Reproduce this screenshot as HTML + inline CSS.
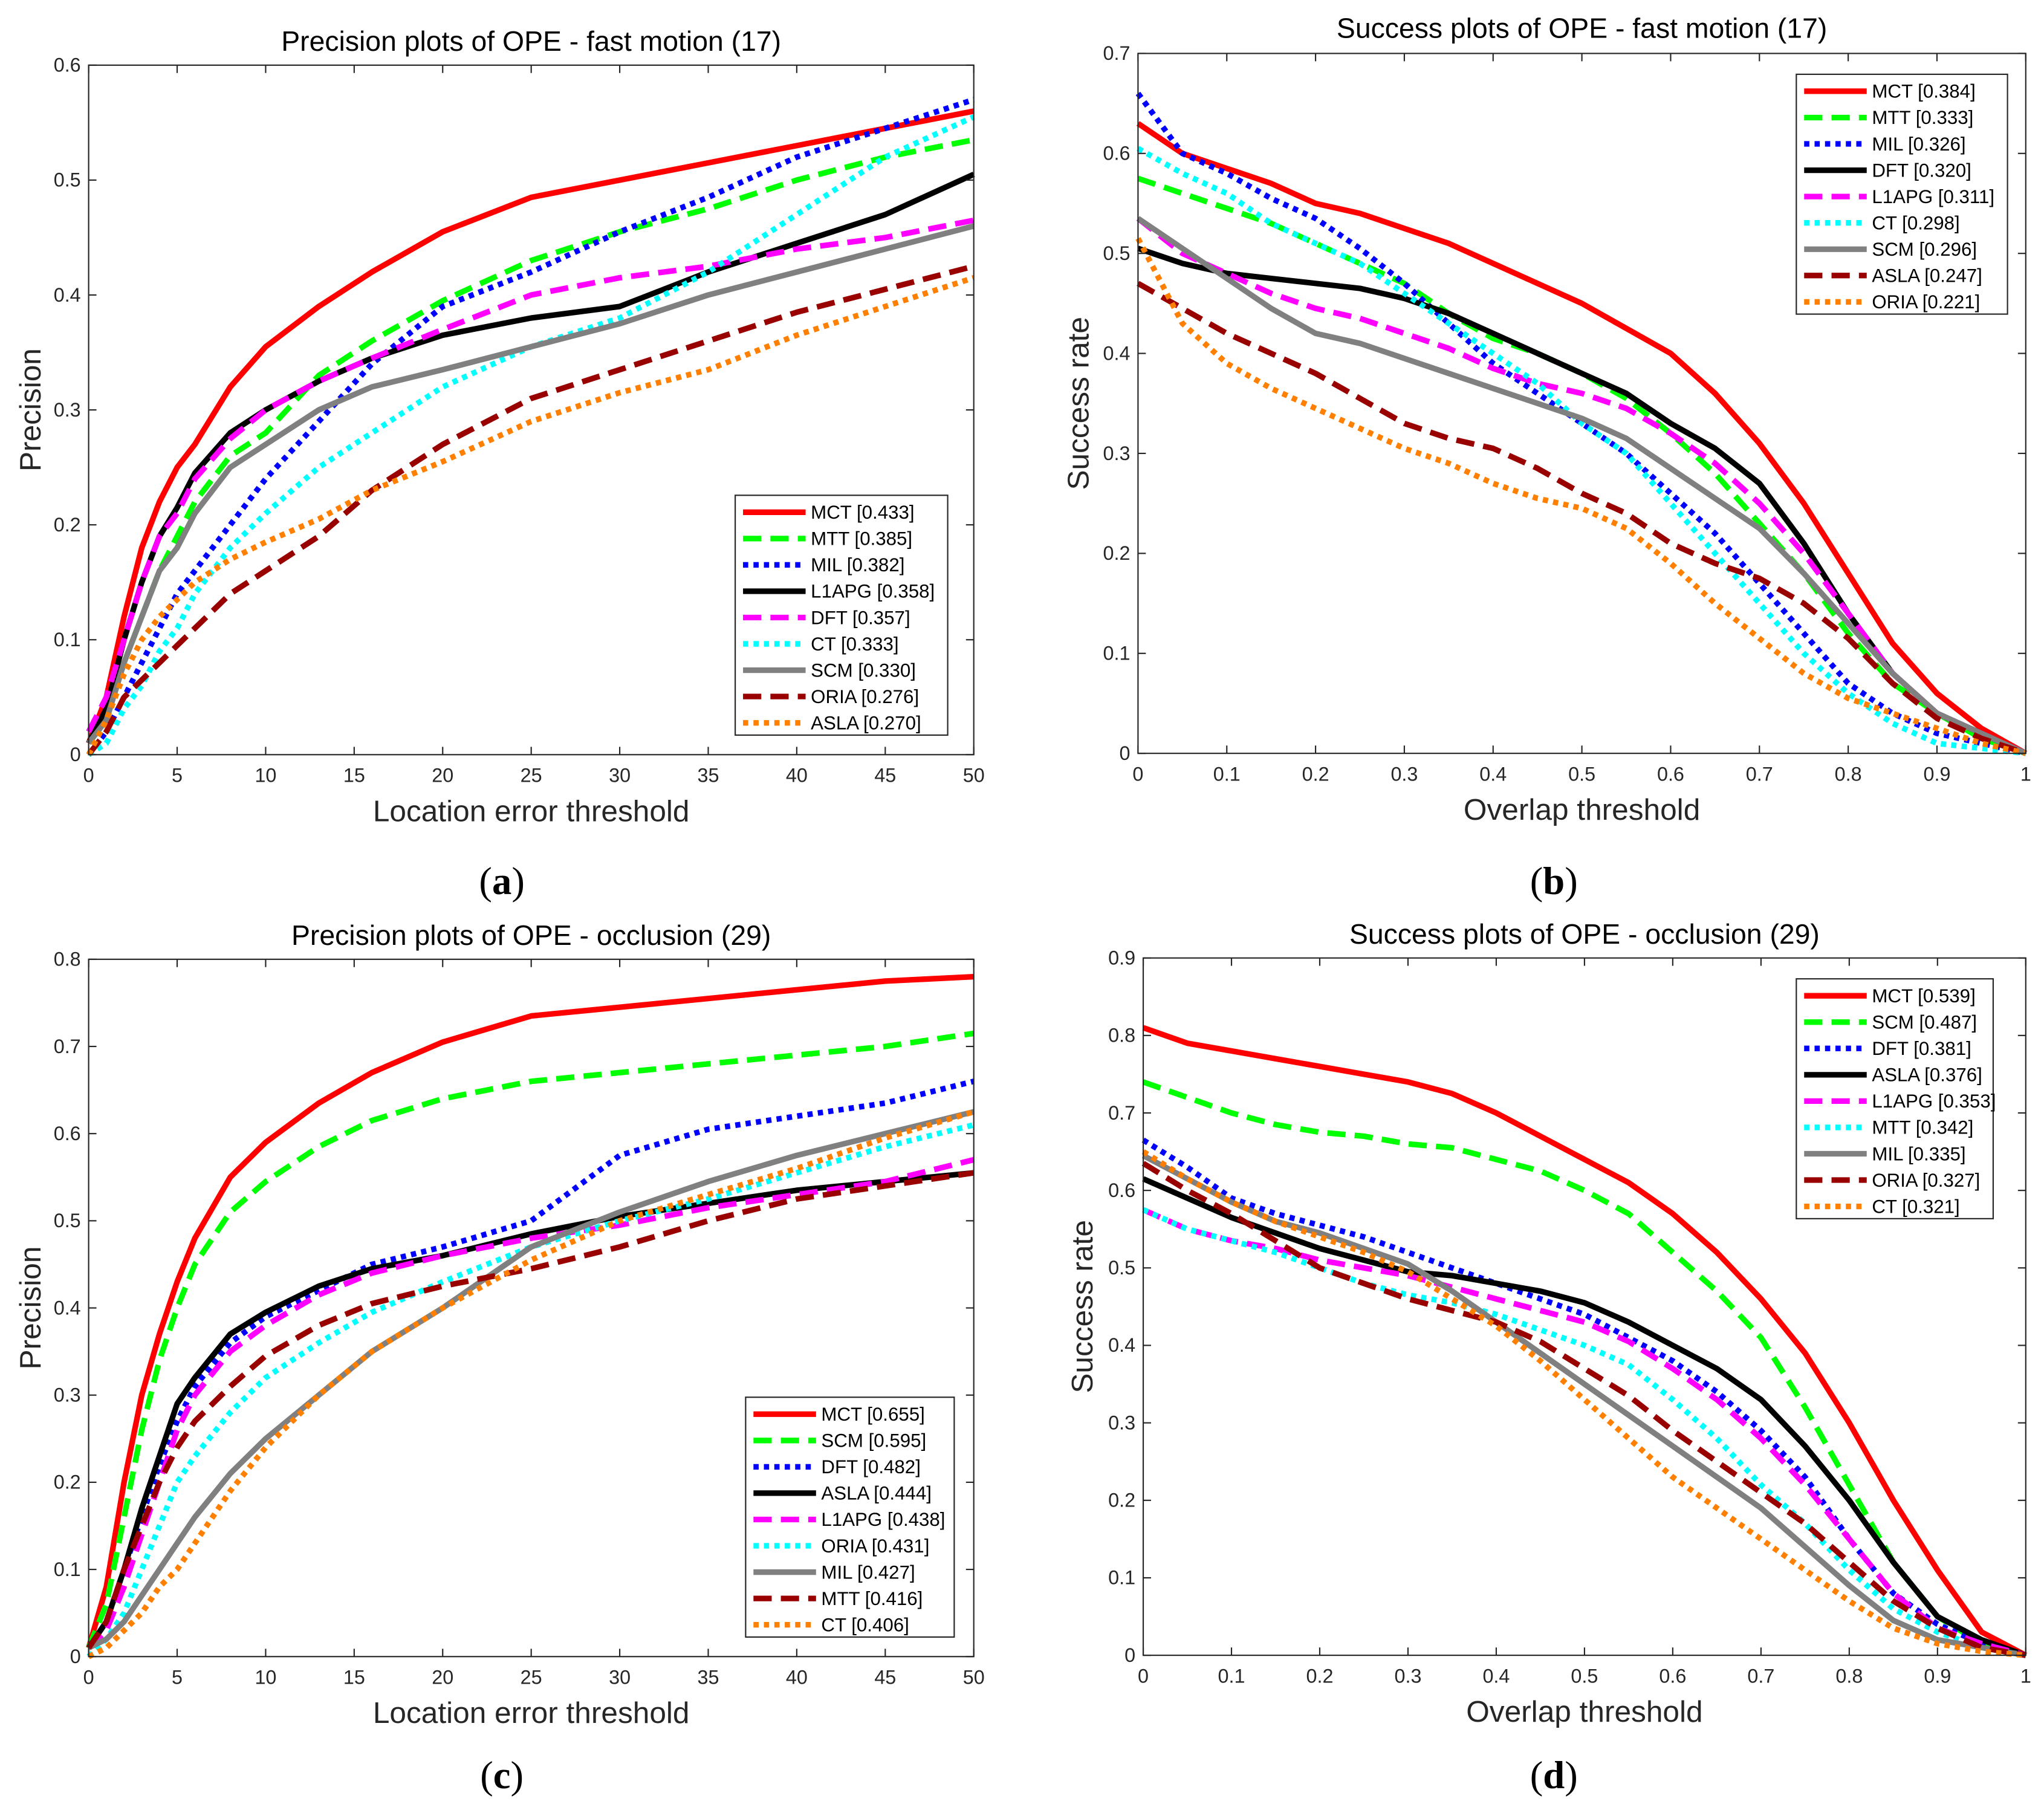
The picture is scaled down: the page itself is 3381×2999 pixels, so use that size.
<!DOCTYPE html>
<html><head><meta charset="utf-8"><style>html,body{margin:0;padding:0;background:#fff}svg{display:block}</style></head>
<body>
<svg id="fig" xmlns="http://www.w3.org/2000/svg" width="3381" height="2999" viewBox="0 0 1568 1391" preserveAspectRatio="none" font-family="'Liberation Sans', sans-serif"></svg>
<script>
const precX = [0,1,2,3,4,5,6,8,10,13,16,20,25,30,35,40,45,50];
const succX = [0,0.05,0.1,0.15,0.2,0.25,0.3,0.35,0.4,0.45,0.5,0.55,0.6,0.65,0.7,0.75,0.8,0.85,0.9,0.95,1];

const aNames = ["MCT [0.433]","MTT [0.385]","MIL [0.382]","L1APG [0.358]","DFT [0.357]","CT [0.333]","SCM [0.330]","ORIA [0.276]","ASLA [0.270]"];
const aMCT = [0.01,0.05,0.12,0.18,0.22,0.25,0.27,0.32,0.355,0.39,0.42,0.455,0.485,0.5,0.515,0.53,0.545,0.56];
const aMTT = [0.01,0.03,0.08,0.12,0.16,0.19,0.22,0.26,0.28,0.33,0.36,0.395,0.43,0.455,0.475,0.5,0.52,0.535];
const aMIL = [0,0.02,0.05,0.08,0.11,0.14,0.16,0.2,0.24,0.29,0.34,0.39,0.42,0.455,0.485,0.52,0.545,0.57];
const aL1APG = [0.01,0.04,0.1,0.15,0.19,0.215,0.245,0.28,0.3,0.325,0.345,0.365,0.38,0.39,0.42,0.445,0.47,0.505];
const aDFT = [0.02,0.05,0.1,0.15,0.19,0.21,0.24,0.275,0.3,0.325,0.345,0.37,0.4,0.415,0.425,0.44,0.45,0.465];
const aCT = [0,0.01,0.04,0.06,0.09,0.11,0.14,0.18,0.21,0.25,0.28,0.32,0.355,0.38,0.42,0.47,0.52,0.555];
const aSCM = [0.01,0.03,0.08,0.12,0.16,0.18,0.21,0.25,0.27,0.3,0.32,0.335,0.355,0.375,0.4,0.42,0.44,0.46];
const aORIA = [0,0.02,0.05,0.065,0.08,0.095,0.11,0.14,0.16,0.19,0.23,0.27,0.31,0.335,0.36,0.385,0.405,0.425];
const aASLA = [0,0.03,0.07,0.1,0.12,0.135,0.15,0.17,0.185,0.205,0.23,0.255,0.29,0.315,0.335,0.365,0.39,0.415];

const bNames = ["MCT [0.384]","MTT [0.333]","MIL [0.326]","DFT [0.320]","L1APG [0.311]","CT [0.298]","SCM [0.296]","ASLA [0.247]","ORIA [0.221]"];
const bMCT = [0.63,0.6,0.585,0.57,0.55,0.54,0.525,0.51,0.49,0.47,0.45,0.425,0.4,0.36,0.31,0.25,0.18,0.11,0.06,0.025,0];
const bMTT = [0.575,0.56,0.545,0.53,0.51,0.49,0.47,0.44,0.415,0.4,0.38,0.355,0.32,0.28,0.23,0.18,0.12,0.07,0.04,0.015,0];
const bMIL = [0.66,0.6,0.58,0.555,0.535,0.505,0.47,0.43,0.39,0.36,0.33,0.3,0.26,0.22,0.17,0.12,0.07,0.04,0.02,0.01,0];
const bDFT = [0.505,0.49,0.48,0.475,0.47,0.465,0.455,0.44,0.42,0.4,0.38,0.36,0.33,0.305,0.27,0.21,0.14,0.08,0.04,0.02,0];
const bL1APG = [0.535,0.5,0.48,0.46,0.445,0.435,0.42,0.405,0.385,0.37,0.36,0.345,0.32,0.29,0.25,0.2,0.14,0.08,0.04,0.02,0];
const bCT = [0.605,0.58,0.56,0.53,0.51,0.49,0.46,0.43,0.4,0.37,0.33,0.3,0.25,0.2,0.15,0.1,0.06,0.03,0.01,0.005,0];
const bSCM = [0.535,0.505,0.475,0.445,0.42,0.41,0.395,0.38,0.365,0.35,0.335,0.315,0.285,0.255,0.225,0.18,0.13,0.08,0.04,0.02,0];
const bASLA = [0.47,0.445,0.42,0.4,0.38,0.355,0.33,0.315,0.305,0.285,0.26,0.24,0.21,0.19,0.175,0.15,0.115,0.07,0.035,0.015,0];
const bORIA = [0.515,0.43,0.39,0.365,0.345,0.325,0.305,0.29,0.27,0.255,0.245,0.225,0.19,0.15,0.115,0.08,0.055,0.04,0.025,0.01,0];

const cNames = ["MCT [0.655]","SCM [0.595]","DFT [0.482]","ASLA [0.444]","L1APG [0.438]","ORIA [0.431]","MIL [0.427]","MTT [0.416]","CT [0.406]"];
const cMCT = [0.01,0.08,0.2,0.3,0.37,0.43,0.48,0.55,0.59,0.635,0.67,0.705,0.735,0.745,0.755,0.765,0.775,0.78];
const cSCM = [0.01,0.06,0.16,0.26,0.34,0.4,0.45,0.51,0.545,0.585,0.615,0.64,0.66,0.67,0.68,0.69,0.7,0.715];
const cDFT = [0.01,0.04,0.1,0.16,0.22,0.27,0.31,0.36,0.39,0.42,0.45,0.47,0.5,0.575,0.605,0.62,0.635,0.66];
const cASLA = [0.01,0.04,0.1,0.17,0.23,0.29,0.32,0.37,0.395,0.425,0.445,0.46,0.485,0.505,0.52,0.535,0.545,0.555];
const cL1APG = [0.01,0.03,0.08,0.14,0.2,0.26,0.3,0.35,0.38,0.415,0.44,0.46,0.48,0.495,0.515,0.53,0.545,0.57];
const cORIA = [0,0.02,0.05,0.1,0.15,0.2,0.23,0.28,0.32,0.36,0.395,0.43,0.47,0.5,0.525,0.555,0.585,0.61];
const cMIL = [0.01,0.02,0.04,0.07,0.1,0.13,0.16,0.21,0.25,0.3,0.35,0.4,0.47,0.51,0.545,0.575,0.6,0.625];
const cMTT = [0.01,0.04,0.1,0.15,0.2,0.24,0.27,0.31,0.345,0.38,0.405,0.425,0.445,0.47,0.5,0.525,0.54,0.555];
const cCT = [0,0.01,0.03,0.05,0.08,0.1,0.13,0.19,0.24,0.3,0.35,0.4,0.455,0.5,0.53,0.56,0.595,0.625];

const dNames = ["MCT [0.539]","SCM [0.487]","DFT [0.381]","ASLA [0.376]","L1APG [0.353]","MTT [0.342]","MIL [0.335]","ORIA [0.327]","CT [0.321]"];
const dMCT = [0.81,0.79,0.78,0.77,0.76,0.75,0.74,0.725,0.7,0.67,0.64,0.61,0.57,0.52,0.46,0.39,0.3,0.2,0.11,0.03,0];
const dSCM = [0.74,0.72,0.7,0.685,0.675,0.67,0.66,0.655,0.64,0.625,0.6,0.57,0.52,0.47,0.41,0.32,0.22,0.12,0.05,0.015,0];
const dDFT = [0.665,0.63,0.59,0.57,0.555,0.54,0.52,0.5,0.48,0.46,0.44,0.41,0.38,0.34,0.29,0.23,0.15,0.08,0.04,0.015,0];
const dASLA = [0.615,0.59,0.565,0.545,0.525,0.51,0.495,0.49,0.48,0.47,0.455,0.43,0.4,0.37,0.33,0.27,0.2,0.12,0.05,0.02,0];
const dL1APG = [0.575,0.55,0.535,0.525,0.51,0.5,0.49,0.475,0.46,0.445,0.43,0.405,0.37,0.33,0.28,0.22,0.15,0.08,0.035,0.015,0];
const dMTT = [0.575,0.55,0.535,0.52,0.5,0.48,0.465,0.455,0.44,0.42,0.4,0.375,0.33,0.28,0.22,0.17,0.11,0.06,0.03,0.01,0];
const dMIL = [0.645,0.615,0.585,0.56,0.545,0.525,0.505,0.47,0.43,0.39,0.35,0.31,0.27,0.23,0.19,0.14,0.09,0.045,0.02,0.01,0];
const dORIA = [0.635,0.6,0.57,0.535,0.5,0.48,0.46,0.445,0.43,0.405,0.37,0.335,0.29,0.25,0.21,0.17,0.12,0.07,0.035,0.01,0];
const dCT = [0.65,0.615,0.585,0.56,0.54,0.52,0.495,0.46,0.425,0.38,0.33,0.28,0.23,0.19,0.15,0.11,0.07,0.035,0.015,0.005,0];

const precTicks = [0,5,10,15,20,25,30,35,40,45,50];
const succTicks = [0,0.1,0.2,0.3,0.4,0.5,0.6,0.7,0.8,0.9,1];

const NS = "http://www.w3.org/2000/svg";
const svg = document.getElementById('fig');
function mk(tag, attrs, parent, text){
  const e = document.createElementNS(NS, tag);
  for (const k in attrs) e.setAttribute(k, attrs[k]);
  if (text !== undefined) e.textContent = text;
  (parent||svg).appendChild(e);
  return e;
}
const RED="#ff0000", GRN="#00ff00", BLU="#0000ff", BLK="#000000", MAG="#ff00ff", CYN="#00ffff", GRY="#808080", DRD="#990000", ORG="#ff8000";
const DASH="14,7", DOT="4,4";

function panel(o){
  const g = mk('g', {}, svg);
  
  
  const xs = v => o.x0 + (v - o.xmin)/(o.xmax - o.xmin)*(o.x1 - o.x0);
  const ys = v => o.y0 - (v)/(o.ymax)*(o.y0 - o.y1);
  const t = mk('text', {x:(o.x0+o.x1)/2, y:o.titleY, 'text-anchor':'middle', 'font-size':21.5}, g, o.title);
  
  
  o.series.forEach((s, i) => {
    const d = s.vals.map((v, j) => (j ? 'L' : 'M') + xs(o.xv[j]).toFixed(2) + ',' + ys(v).toFixed(2)).join(' ');
    const p = mk('path', {d:d, fill:'none', stroke:s.c, 'stroke-width':4.3, 'stroke-dasharray':s.dash||'none', 'stroke-linejoin':'round'}, g);
    
    
  });
  const box = mk('rect', {x:o.x0, y:o.y1, width:o.x1-o.x0, height:o.y0-o.y1, fill:'none', stroke:'#262626', 'stroke-width':1}, g);
  
  
  o.xticks.forEach(v => {
    const x = xs(v);
    mk('line', {x1:x, x2:x, y1:o.y0, y2:o.y0-6, stroke:'#262626'}, g);
    mk('line', {x1:x, x2:x, y1:o.y1, y2:o.y1+6, stroke:'#262626'}, g);
    const tl = mk('text', {x:x, y:o.y0+21, 'text-anchor':'middle', 'font-size':15, fill:'#262626'}, g, String(v));
    
    
  });
  o.yticks.forEach(v => {
    const y = ys(v);
    mk('line', {x1:o.x0, x2:o.x0+6, y1:y, y2:y, stroke:'#262626'}, g);
    mk('line', {x1:o.x1, x2:o.x1-6, y1:y, y2:y, stroke:'#262626'}, g);
    const tl = mk('text', {x:o.x0-6, y:y+5, 'text-anchor':'end', 'font-size':15, fill:'#262626'}, g, String(v));
    
    
  });
  const xl = mk('text', {x:(o.x0+o.x1)/2, y:o.y0+51, 'text-anchor':'middle', 'font-size':23, fill:'#262626'}, g, o.xlabel);
  
  
  const yl = mk('text', {x:0, y:0, 'text-anchor':'middle', 'font-size':23, fill:'#262626', transform:`translate(${o.ylx},${(o.y0+o.y1)/2}) rotate(-90)`}, g, o.ylabel);
  
  
  const L = o.leg;
  const lg = mk('g', {}, g);
  
  
  mk('rect', {x:L.x, y:L.y, width:L.w, height:184, fill:'#fff', stroke:'#262626', 'stroke-width':1}, lg);
  o.names.forEach((n, i) => {
    const y = L.y + 13 + i*20.2;
    const s = o.series[i];
    mk('line', {x1:L.x+6, x2:L.x+54, y1:y, y2:y, stroke:s.c, 'stroke-width':4.3, 'stroke-dasharray':s.dash||'none'}, lg);
    const lt = mk('text', {x:L.x+58, y:y+5, 'font-size':14.5}, lg, n);
    
    
  });
  const cap = mk('text', {x:o.capX, y:o.capY, 'text-anchor':'middle', 'font-size':30, 'font-family':"'Liberation Serif', serif"}, g);
  cap.appendChild(document.createTextNode('('));
  mk('tspan', {'font-weight':'bold'}, cap, o.cap);
  cap.appendChild(document.createTextNode(')'));
  
  
}

panel({id:'a', title:'Precision plots of OPE - fast motion (17)', titleY:39, x0:68, x1:747, y0:579, y1:50, xmin:0, xmax:50, ymax:0.6,
  xv:precX, xticks:precTicks, yticks:[0,0.1,0.2,0.3,0.4,0.5,0.6], xlabel:'Location error threshold', ylabel:'Precision', ylx:31,
  names:aNames, leg:{x:564, y:380, w:163}, capX:385, capY:686, cap:'a',
  series:[{vals:aMCT,c:RED},{vals:aMTT,c:GRN,dash:DASH},{vals:aMIL,c:BLU,dash:DOT},{vals:aL1APG,c:BLK},{vals:aDFT,c:MAG,dash:DASH},{vals:aCT,c:CYN,dash:DOT},{vals:aSCM,c:GRY},{vals:aORIA,c:DRD,dash:DASH},{vals:aASLA,c:ORG,dash:DOT}]});
panel({id:'b', title:'Success plots of OPE - fast motion (17)', titleY:29, x0:873, x1:1554, y0:578, y1:41, xmin:0, xmax:1, ymax:0.7,
  xv:succX, xticks:succTicks, yticks:[0,0.1,0.2,0.3,0.4,0.5,0.6,0.7], xlabel:'Overlap threshold', ylabel:'Success rate', ylx:835,
  names:bNames, leg:{x:1378, y:57, w:162}, capX:1192, capY:686, cap:'b',
  series:[{vals:bMCT,c:RED},{vals:bMTT,c:GRN,dash:DASH},{vals:bMIL,c:BLU,dash:DOT},{vals:bDFT,c:BLK},{vals:bL1APG,c:MAG,dash:DASH},{vals:bCT,c:CYN,dash:DOT},{vals:bSCM,c:GRY},{vals:bASLA,c:DRD,dash:DASH},{vals:bORIA,c:ORG,dash:DOT}]});
panel({id:'c', title:'Precision plots of OPE - occlusion (29)', titleY:725, x0:68, x1:747, y0:1271, y1:736, xmin:0, xmax:50, ymax:0.8,
  xv:precX, xticks:precTicks, yticks:[0,0.1,0.2,0.3,0.4,0.5,0.6,0.7,0.8], xlabel:'Location error threshold', ylabel:'Precision', ylx:31,
  names:cNames, leg:{x:572, y:1072, w:160}, capX:385, capY:1372, cap:'c',
  series:[{vals:cMCT,c:RED},{vals:cSCM,c:GRN,dash:DASH},{vals:cDFT,c:BLU,dash:DOT},{vals:cASLA,c:BLK},{vals:cL1APG,c:MAG,dash:DASH},{vals:cORIA,c:CYN,dash:DOT},{vals:cMIL,c:GRY},{vals:cMTT,c:DRD,dash:DASH},{vals:cCT,c:ORG,dash:DOT}]});
panel({id:'d', title:'Success plots of OPE - occlusion (29)', titleY:724, x0:877, x1:1554, y0:1270, y1:735, xmin:0, xmax:1, ymax:0.9,
  xv:succX, xticks:succTicks, yticks:[0,0.1,0.2,0.3,0.4,0.5,0.6,0.7,0.8,0.9], xlabel:'Overlap threshold', ylabel:'Success rate', ylx:838,
  names:dNames, leg:{x:1378, y:751, w:151}, capX:1192, capY:1372, cap:'d',
  series:[{vals:dMCT,c:RED},{vals:dSCM,c:GRN,dash:DASH},{vals:dDFT,c:BLU,dash:DOT},{vals:dASLA,c:BLK},{vals:dL1APG,c:MAG,dash:DASH},{vals:dMTT,c:CYN,dash:DOT},{vals:dMIL,c:GRY},{vals:dORIA,c:DRD,dash:DASH},{vals:dCT,c:ORG,dash:DOT}]});
</script>
</body></html>
